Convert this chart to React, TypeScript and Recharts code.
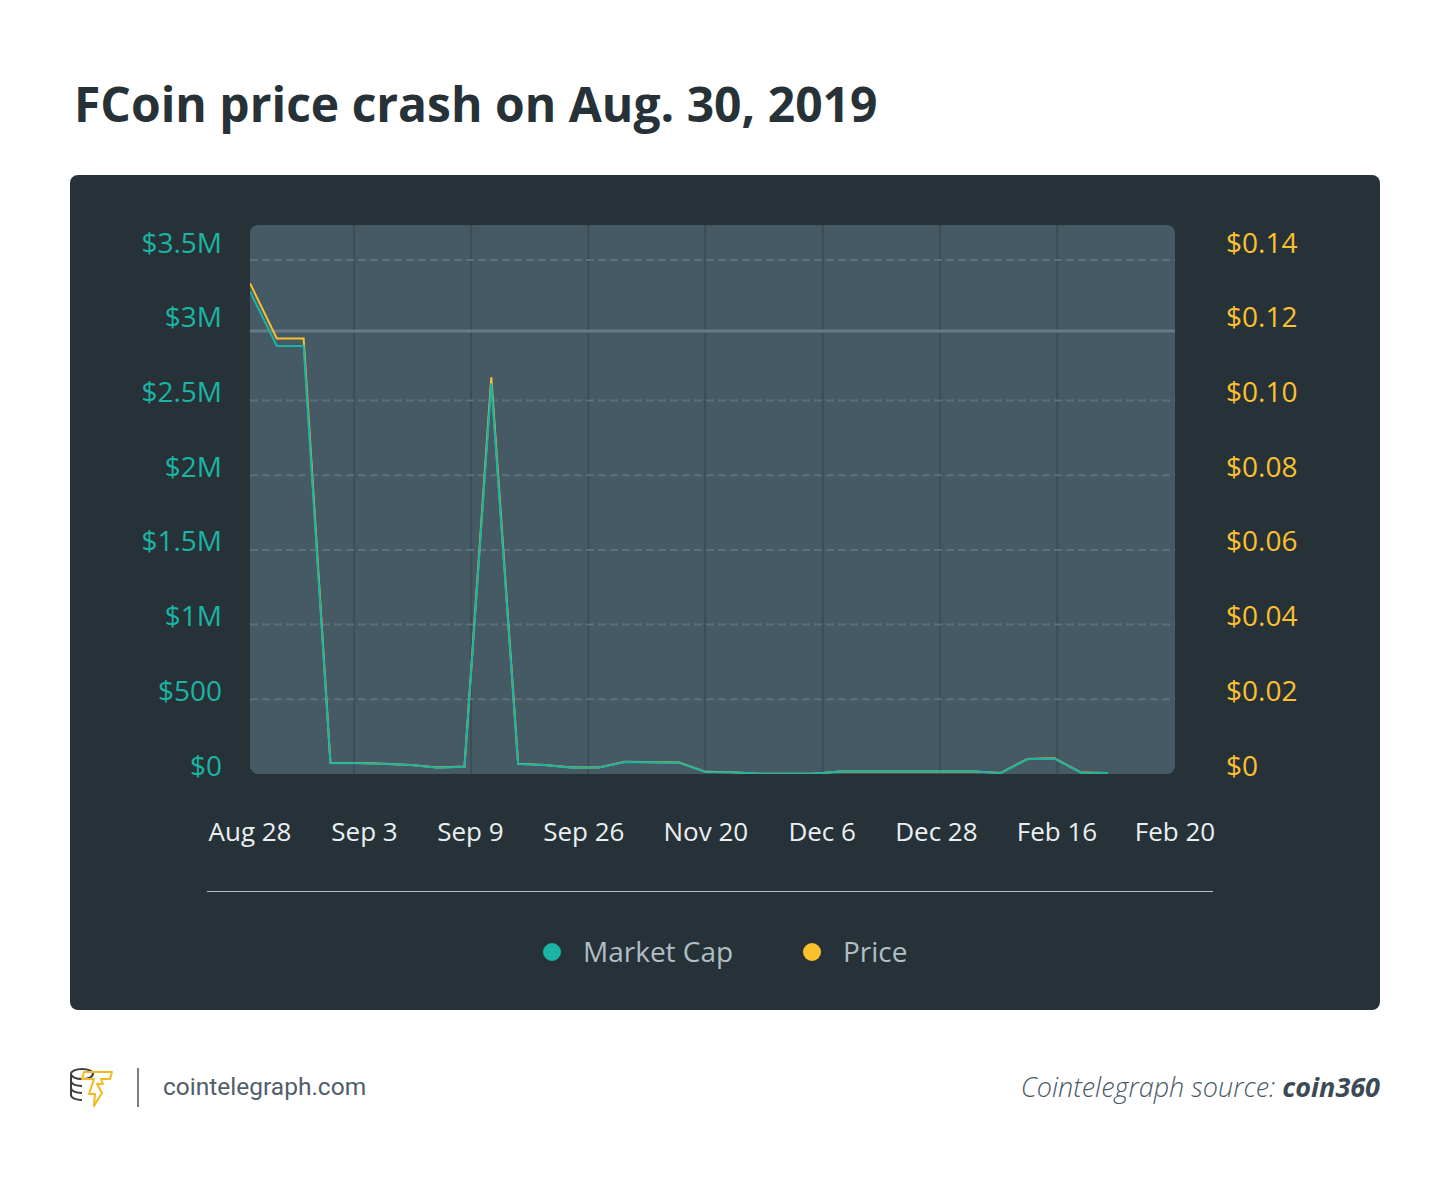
import React from "react";
import { LineChart, Line, XAxis, YAxis, ReferenceLine, ReferenceArea } from "recharts";

// ---- data ----
const pointIndex = [0, 1, 2, 3, 4, 5, 6, 7, 8, 9, 10, 11, 12, 13, 14, 15, 16, 17, 18, 19, 20, 21, 22, 23, 24, 25, 26, 27, 28, 29, 30, 31, 32];
const marketCap = [
  3230000, 2865000, 2865000, 72000, 72000, 67000, 60000, 42000, 49000, 2615000,
  67000, 60000, 42000, 43000, 80000, 78000, 76000, 14000, 12000, 2000,
  2000, 2000, 16000, 16000, 16000, 16000, 16000, 16000, 7000, 99000,
  103000, 9000, 7000,
];
const price = [
  0.1314, 0.1166, 0.1166, 0.00293, 0.00293, 0.00273, 0.00244, 0.00171, 0.00199, 0.1062,
  0.00273, 0.00244, 0.00171, 0.00175, 0.00326, 0.00317, 0.00309, 0.00057, 0.00049, 0.00008,
  0.00008, 0.00008, 0.00065, 0.00065, 0.00065, 0.00065, 0.00065, 0.00065, 0.00028, 0.00403,
  0.00419, 0.00037, 0.00028,
];
const xTickLabels = ["Aug 28", "Sep 3", "Sep 9", "Sep 26", "Nov 20", "Dec 6", "Dec 28", "Feb 16", "Feb 20"];
const xTickPositions = [0, 4.27, 8.22, 12.45, 17.0, 21.34, 25.6, 30.1, 34.5];
const xGridPositions = [3.88, 8.25, 12.62, 16.98, 21.36, 25.74, 30.11];
const xDomain = [0, 34.5];

const leftTicks = [0, 500000, 1000000, 1500000, 2000000, 2500000, 3000000, 3500000];
const leftTickLabels = ["$0", "$500", "$1M", "$1.5M", "$2M", "$2.5M", "$3M", "$3.5M"];
const leftDomain = [0, 3675000];
const rightTicks = [0, 0.02, 0.04, 0.06, 0.08, 0.1, 0.12, 0.14];
const rightTickLabels = ["$0", "$0.02", "$0.04", "$0.06", "$0.08", "$0.10", "$0.12", "$0.14"];
const rightDomain = [0, 0.147];

const dashedGridValues = [500000, 1000000, 1500000, 2000000, 2500000, 3440000];
const solidGridValue = 2965000;

const data = pointIndex.map((i, k) => ({ idx: i, marketCap: marketCap[k], price: price[k] }));

// ---- styles ----
const TEAL = "#1ab4a4";
const YELLOW = "#fbc02d";
const PANEL = "#263238";
const PLOT = "#455a64";
const FONT = "'Open Sans', sans-serif";

const XTick = (props: any) => {
  const { x, y, payload } = props;
  const k = xTickPositions.indexOf(payload.value);
  return (
    <text x={x} y={y + 67} textAnchor="middle" fill="#eceff1" fontSize={26} fontFamily={FONT}>
      {k >= 0 ? xTickLabels[k] : ""}
    </text>
  );
};

const LeftTick = (props: any) => {
  const { x, y, payload } = props;
  const k = leftTicks.indexOf(payload.value);
  return (
    <text x={x - 28} y={y + 1.5} textAnchor="end" fill={TEAL} fontSize={28} fontFamily={FONT}>
      {k >= 0 ? leftTickLabels[k] : ""}
    </text>
  );
};

const RightTick = (props: any) => {
  const { x, y, payload } = props;
  const k = rightTicks.indexOf(payload.value);
  return (
    <text x={x + 51} y={y + 1.5} textAnchor="start" fill={YELLOW} fontSize={28} fontFamily={FONT}>
      {k >= 0 ? rightTickLabels[k] : ""}
    </text>
  );
};

const PlotBg = (props: any) => {
  const { x, y, width, height } = props;
  return <rect x={x} y={y} width={width} height={height} rx={8} ry={8} fill={PLOT} />;
};

const Logo = () => (
  <svg width={46} height={42} viewBox="0 0 46 42" style={{ position: "absolute", left: 68, top: 1066 }}>
    <g fill="none" stroke="#3a3f44" strokeWidth={2}>
      <ellipse cx={14} cy={8} rx={11} ry={5} />
      <path d="M3 8 v7 c0 3 5 5 11 5" />
      <path d="M3 15 v7 c0 3 5 5 11 5" />
      <path d="M3 22 v7 c0 3 5 5 11 5" />
    </g>
    <path
      d="M16 6 L44 6 L42 13 L33 13 L35 18 L29 18 L34 27 L26 40 L27 28 L21 28 L26 13 L14 13 Z"
      fill="none"
      stroke="#f6b91d"
      strokeWidth={2}
      strokeLinejoin="round"
    />
  </svg>
);

export default function App() {
  return (
    <div style={{ position: "relative", width: 1450, height: 1178, margin: -8, background: "#ffffff", fontFamily: FONT, overflow: "hidden" }}>
      <div style={{ position: "absolute", left: 74, top: 80, fontSize: 48, lineHeight: "48px", fontWeight: 700, color: "#263238", whiteSpace: "nowrap" }}>
        FCoin price crash on Aug. 30, 2019
      </div>

      <div style={{ position: "absolute", left: 70, top: 175, width: 1310, height: 835, background: PANEL, borderRadius: 8 }}>
        <div style={{ position: "absolute", left: 0, top: 0 }}>
          <LineChart width={1310} height={700} data={data} margin={{ top: 50, right: 55, bottom: 41, left: 30 }}>
            <XAxis
              dataKey="idx"
              type="number"
              domain={xDomain}
              allowDataOverflow
              ticks={xTickPositions}
              interval={0}
              height={60}
              axisLine={false}
              tickLine={false}
              tickSize={0}
              tickMargin={0}
              tick={<XTick />}
            />
            <YAxis
              yAxisId="left"
              orientation="left"
              width={150}
              domain={leftDomain}
              allowDataOverflow
              ticks={leftTicks}
              interval={0}
              axisLine={false}
              tickLine={false}
              tickSize={0}
              tickMargin={0}
              tick={<LeftTick />}
            />
            <YAxis
              yAxisId="right"
              orientation="right"
              width={150}
              domain={rightDomain}
              allowDataOverflow
              ticks={rightTicks}
              interval={0}
              axisLine={false}
              tickLine={false}
              tickSize={0}
              tickMargin={0}
              tick={<RightTick />}
            />
            <ReferenceArea
              yAxisId="left"
              x1={xDomain[0]}
              x2={xDomain[1]}
              y1={leftDomain[0]}
              y2={leftDomain[1]}
              shape={<PlotBg />}
            />
            {xGridPositions.map((v) => (
              <ReferenceLine key={"vx" + v} yAxisId="left" x={v} stroke="#3b4d56" strokeWidth={2} />
            ))}
            {dashedGridValues.map((v) => (
              <ReferenceLine key={"hy" + v} yAxisId="left" y={v} stroke="#5c707a" strokeWidth={2} strokeDasharray="8 4" />
            ))}
            <ReferenceLine yAxisId="left" y={solidGridValue} stroke="#667b85" strokeWidth={3} />
            <Line
              yAxisId="right"
              type="linear"
              dataKey="price"
              stroke={YELLOW}
              strokeWidth={2}
              dot={false}
              activeDot={false}
              isAnimationActive={false}
            />
            <Line
              yAxisId="left"
              type="linear"
              dataKey="marketCap"
              stroke={TEAL}
              strokeWidth={2}
              dot={false}
              activeDot={false}
              isAnimationActive={false}
            />
          </LineChart>
        </div>

        {/* separator */}
        <div style={{ position: "absolute", left: 137, top: 716, width: 1006, height: 1, background: "#b0bec5" }} />

        {/* legend */}
        <div style={{ position: "absolute", left: 473, top: 768, width: 18, height: 18, borderRadius: 9, background: TEAL }} />
        <div style={{ position: "absolute", left: 513, top: 762, fontSize: 28, lineHeight: "28px", color: "#b0bec5", whiteSpace: "nowrap" }}>
          Market Cap
        </div>
        <div style={{ position: "absolute", left: 733, top: 768, width: 18, height: 18, borderRadius: 9, background: YELLOW }} />
        <div style={{ position: "absolute", left: 773, top: 762, fontSize: 28, lineHeight: "28px", color: "#b0bec5", whiteSpace: "nowrap" }}>
          Price
        </div>
      </div>

      {/* footer */}
      <Logo />
      <div style={{ position: "absolute", left: 137, top: 1068, width: 2, height: 39, background: "#7a7f84" }} />
      <div style={{ position: "absolute", left: 163, top: 1075, fontSize: 24.5, lineHeight: "24px", fontFamily: "Roboto, sans-serif", fontWeight: 400, color: "#4f5e6a", whiteSpace: "nowrap" }}>
        cointelegraph.com
      </div>
      <div style={{ position: "absolute", right: 70, top: 1073, fontSize: 27, lineHeight: "27px", fontStyle: "italic", fontWeight: 300, color: "#4a5a66", whiteSpace: "nowrap" }}>
        Cointelegraph source: <span style={{ fontWeight: 700, color: "#3b4a55" }}>coin360</span>
      </div>
    </div>
  );
}
